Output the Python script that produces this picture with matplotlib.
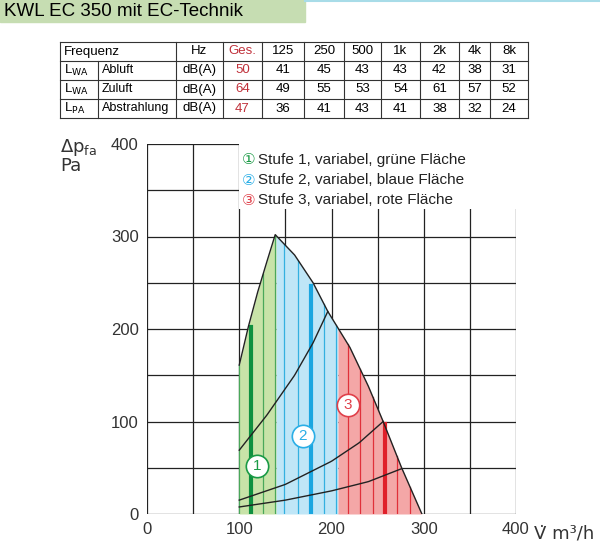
import matplotlib
matplotlib.use("Agg")
import matplotlib.pyplot as plt
import numpy as np
from matplotlib.lines import Line2D
from matplotlib.patches import Rectangle

plt.rcParams["font.family"] = ["Liberation Sans", "DejaVu Sans"]

# --- table data ---
FREQ = ["Ges.", "125", "250", "500", "1k", "2k", "4k", "8k"]
ROW_SYM = [("L", "WA"), ("L", "WA"), ("L", "PA")]
ROW_NAME = ["Abluft", "Zuluft", "Abstrahlung"]
ABLUFT = [50, 41, 45, 43, 43, 42, 38, 31]
ZULUFT = [64, 49, 55, 53, 54, 61, 57, 52]
ABSTR = [47, 36, 41, 43, 41, 38, 32, 24]

# --- curve data (V in m3/h, dp in Pa) ---
RISE_V = [100, 110, 120, 130, 139]
RISE_P = [161, 203, 240, 273, 302]
FALL_V = [139, 160, 180, 196, 220, 240, 256, 276, 298]
FALL_P = [302, 280, 250, 219, 180, 138, 100, 50, 0]
SYS_A_V = [100, 130, 160, 180, 196]
SYS_A_P = [69, 107, 150, 185, 219]
SYS_B_V = [100, 150, 200, 230, 256]
SYS_B_P = [15, 32, 57, 77, 100]
SYS_C_V = [100, 150, 200, 240, 276]
SYS_C_P = [7.6, 15, 25, 35, 49]
GREEN_LINES = [100, 126, 139]
BLUE_LINES = [149, 164, 192, 205]
RED_LINES = [218, 231, 245, 271, 285]
THICK = [(113, 202, "#0f9040"), (178, 247, "#1aa6e0"), (258, 97, "#e0202a")]
MARKS = [(119, 52, "1", "#1a9a45"), (169, 84, "2", "#2aaee6"), (218, 118, "3", "#e0404a")]

fig = plt.figure(figsize=(6, 5.51), dpi=100)
W, H = 600, 551

def fx(px):
    return px / W

def fy(py):
    return 1 - py / H

# title band
fig.patches.append(Rectangle((0, fy(22)), fx(305), 22 / H, transform=fig.transFigure,
                             color="#c6ddb2", zorder=0))
fig.add_artist(Line2D([fx(305), 1], [fy(1), fy(1)], color="#a8dce8", lw=1.5))
fig.text(fx(4), fy(11), "KWL EC 350 mit EC-Technik", fontsize=13.5, va="center")

# table
cols = [60, 98, 176, 223, 262, 304, 344, 381, 420, 459, 490, 528]
rows = [42, 61, 80, 99, 118]
for y in rows:
    fig.add_artist(Line2D([fx(cols[0]), fx(cols[-1])], [fy(y), fy(y)], color="#333", lw=0.8))
for i, x in enumerate(cols):
    y0 = rows[1] if i == 1 else rows[0]
    fig.add_artist(Line2D([fx(x), fx(x)], [fy(y0), fy(rows[-1])], color="#333", lw=0.8))
fs = 9.5
fig.text(fx(64), fy(51.5), "Frequenz", fontsize=fs, va="center")
fig.text(fx(199.5), fy(51.5), "Hz", fontsize=fs, va="center", ha="center")
for j, f in enumerate(FREQ):
    xc = (cols[j + 3] + cols[j + 4]) / 2
    fig.text(fx(xc), fy(51.5), f, fontsize=fs, va="center", ha="center",
             color="#c0303a" if j == 0 else "black")
for r, vals in enumerate([ABLUFT, ZULUFT, ABSTR]):
    yc = (rows[r + 1] + rows[r + 2]) / 2
    sym, sub = ROW_SYM[r]
    fig.text(fx(64), fy(yc), f"{sym}$_{{\\mathrm{{{sub}}}}}$", fontsize=fs, va="center")
    fig.text(fx(102), fy(yc), ROW_NAME[r], fontsize=fs - 0.5, va="center")
    fig.text(fx(199.5), fy(yc), "dB(A)", fontsize=fs, va="center", ha="center")
    for j, v in enumerate(vals):
        xc = (cols[j + 3] + cols[j + 4]) / 2
        fig.text(fx(xc), fy(yc), str(v), fontsize=fs, va="center", ha="center",
                 color="#c0303a" if j == 0 else "black")

# chart
ax = fig.add_axes([fx(147), fy(514), fx(516) - fx(147), fy(144) - fy(514)])
ax.set_xlim(0, 400)
ax.set_ylim(0, 400)
for s in ax.spines.values():
    s.set_visible(False)
for v in range(0, 401, 50):
    ax.axvline(v, color="#222", lw=0.9, zorder=1)
    ax.axhline(v, color="#222", lw=0.9, zorder=1)
ax.set_xticks([0, 100, 200, 300, 400])
ax.set_yticks([0, 100, 200, 300, 400])
ax.tick_params(length=0, labelsize=12, colors="#333", pad=6)

env_v = np.array(RISE_V + FALL_V[1:])
env_p = np.array(RISE_P + FALL_P[1:])

def env(v):
    return np.interp(v, env_v, env_p)

def fill(v0, v1, color):
    vv = np.linspace(v0, v1, 60)
    ax.fill_between(vv, 0, env(vv), color=color, lw=0, zorder=2)

fill(100, 140, "#c8e3a8")
fill(140, 207, "#bfe6f7")
fill(207, 298, "#f4a7a7")
for v in GREEN_LINES:
    ax.plot([v, v], [0, env(v)], color="#4aa85a", lw=0.9, zorder=3)
for v in BLUE_LINES:
    ax.plot([v, v], [0, env(v)], color="#33b0e0", lw=0.9, zorder=3)
for v in RED_LINES:
    ax.plot([v, v], [0, env(v)], color="#e0303a", lw=0.9, zorder=3)
for v, p, c in THICK:
    ax.plot([v, v], [0, p], color=c, lw=3, zorder=4)

ax.plot(env_v, env_p, color="#222", lw=1, zorder=5)
for vs, ps in [(SYS_A_V, SYS_A_P), (SYS_B_V, SYS_B_P), (SYS_C_V, SYS_C_P)]:
    vv = np.linspace(vs[0], vs[-1], 80)
    ax.plot(vv, np.interp(vv, vs, ps), color="#222", lw=1, zorder=5)

for v, p, t, c in MARKS:
    ax.scatter([v], [p], s=260, facecolor="white", edgecolor=c, lw=1.2, zorder=6)
    ax.text(v, p, t, color=c, fontsize=11, ha="center", va="center", zorder=7)

# legend
leg = [("①", "Stufe 1, variabel, grüne Fläche", "#1a9a45"),
       ("②", "Stufe 2, variabel, blaue Fläche", "#2aaee6"),
       ("③", "Stufe 3, variabel, rote Fläche", "#e0404a")]
ax.add_patch(Rectangle((100, 330), 300, 70, facecolor="white", edgecolor="none", zorder=6))
for i, (sym, txt, c) in enumerate(leg):
    y = 383 - i * 22
    ax.text(103, y, sym, color=c, fontsize=11, va="center", zorder=7,
            family=["DejaVu Sans"])
    ax.text(120, y, txt, color="#222", fontsize=11, va="center", zorder=7)

fig.text(fx(60), fy(156), "Δp$_{\\mathrm{fa}}$\nPa", fontsize=13, color="#333",
         va="center", family=["DejaVu Sans"], linespacing=0.95)
fig.text(fx(534), fy(534), "V̇ m³/h", fontsize=13, color="#333", va="center",
         family=["DejaVu Sans"])

fig.savefig("out.png", dpi=100)
